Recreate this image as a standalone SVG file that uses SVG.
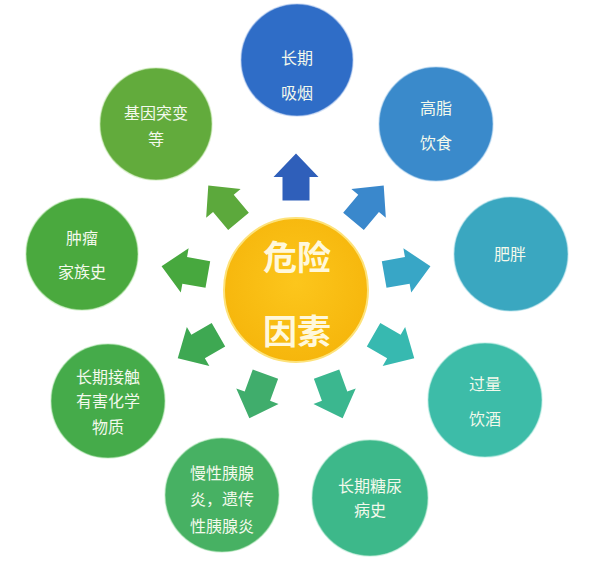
<svg xmlns="http://www.w3.org/2000/svg" xmlns:xlink="http://www.w3.org/1999/xlink" width="600" height="568" viewBox="0 0 600 568">
<style>
.t{font-family:"Noto Sans CJK SC","Noto Sans",sans-serif;font-size:16px;fill:#f3f9ec;text-anchor:middle;dominant-baseline:central}
.c{font-family:"Noto Sans CJK SC","Noto Sans",sans-serif;font-size:34px;font-weight:bold;fill:#fff8dc;text-anchor:middle;dominant-baseline:central}
.ring{stroke-width:1.5;stroke-opacity:0.5}
</style>
<defs>
<path id="arr" d="M23.5,0 L0,-22.5 L0,-13.5 L-23.5,-13.5 L-23.5,13.5 L0,13.5 L0,22.5 Z"/>
<radialGradient id="gc" cx="50%" cy="45%" r="55%">
<stop offset="0" stop-color="#fcc61c"/>
<stop offset="1" stop-color="#f6b60c"/>
</radialGradient>
</defs>
<rect width="600" height="568" fill="#ffffff"/>
<g id="connectors">
<use xlink:href="#arr" fill="#2f5fba" transform="translate(296,177) rotate(-90)"/>
<use xlink:href="#arr" fill="#3a88cc" transform="translate(368.6,203.4) rotate(-50)"/>
<use xlink:href="#arr" fill="#38a6c6" transform="translate(407.3,270.4) rotate(-10)"/>
<use xlink:href="#arr" fill="#37b9b0" transform="translate(393.9,346.5) rotate(30)"/>
<use xlink:href="#arr" fill="#3bb78f" transform="translate(334.6,396.2) rotate(70)"/>
<use xlink:href="#arr" fill="#40ad6c" transform="translate(257.4,396.2) rotate(110)"/>
<use xlink:href="#arr" fill="#3ea852" transform="translate(198.1,346.5) rotate(150)"/>
<use xlink:href="#arr" fill="#47a83e" transform="translate(184.7,270.4) rotate(190)"/>
<use xlink:href="#arr" fill="#5ca93c" transform="translate(223.4,203.4) rotate(230)"/>
</g>
<g id="center">
<circle cx="296" cy="290" r="72" fill="url(#gc)" stroke="#fde27a" stroke-width="2"/>
<text class="c" x="297" y="255">危险</text>
<text class="c" x="297" y="329">因素</text>
</g>
<g id="n1">
<circle class="ring" cx="297" cy="60" r="56" fill="#2f6dc7" stroke="#a9c4ee"/>
<text class="t" x="297" y="57">长期</text>
<text class="t" x="297" y="92">吸烟</text>
</g>
<g id="n2">
<circle class="ring" cx="436" cy="124" r="57" fill="#3a8acb" stroke="#a9d0ee"/>
<text class="t" x="436" y="107">高脂</text>
<text class="t" x="436" y="142">饮食</text>
</g>
<g id="n3">
<circle class="ring" cx="511" cy="254" r="57" fill="#3aa7c0" stroke="#a9dde8"/>
<text class="t" x="510" y="253">肥胖</text>
</g>
<g id="n4">
<circle class="ring" cx="485" cy="400" r="57" fill="#3dbca8" stroke="#a9e8dc"/>
<text class="t" x="485" y="383">过量</text>
<text class="t" x="485" y="418">饮酒</text>
</g>
<g id="n5">
<circle class="ring" cx="370" cy="498" r="58" fill="#3db88a" stroke="#a9e6cc"/>
<text class="t" x="370" y="485">长期糖尿</text>
<text class="t" x="370" y="509">病史</text>
</g>
<g id="n6">
<circle class="ring" cx="222" cy="495" r="57" fill="#47b163" stroke="#b0e6b8"/>
<text class="t" x="222" y="472">慢性胰腺</text>
<text class="t" x="222" y="498">炎，遗传</text>
<text class="t" x="222" y="525">性胰腺炎</text>
</g>
<g id="n7">
<circle class="ring" cx="108" cy="401" r="57" fill="#45ab4a" stroke="#b0e6b0"/>
<text class="t" x="108" y="376">长期接触</text>
<text class="t" x="108" y="400">有害化学</text>
<text class="t" x="108" y="426">物质</text>
</g>
<g id="n8">
<circle class="ring" cx="82" cy="254" r="56" fill="#4aa93e" stroke="#b4e6a8"/>
<text class="t" x="82" y="237">肿瘤</text>
<text class="t" x="82" y="271">家族史</text>
</g>
<g id="n9">
<circle class="ring" cx="156" cy="124" r="56" fill="#62ab3c" stroke="#c0e6a8"/>
<text class="t" x="156" y="112">基因突变</text>
<text class="t" x="156" y="138">等</text>
</g>
</svg>
